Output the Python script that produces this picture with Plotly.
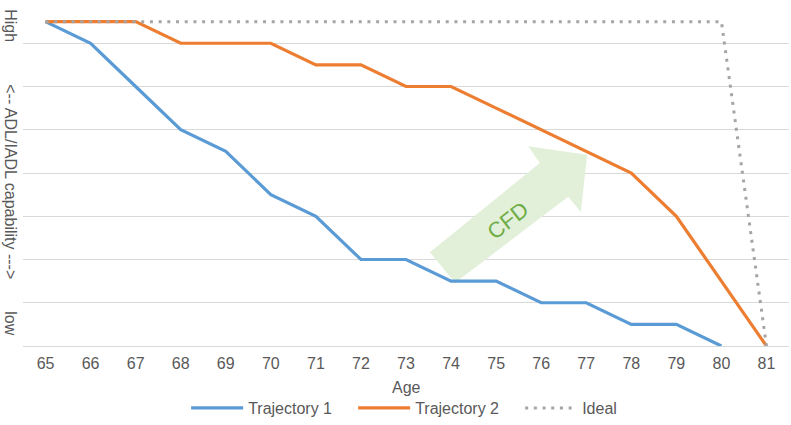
import plotly.graph_objects as go

ages = list(range(65, 82))
traj1 = [7.5, 7, 6, 5, 4.5, 3.5, 3, 2, 2, 1.5, 1.5, 1, 1, 0.5, 0.5, 0, None]
traj2 = [7.5, 7.5, 7.5, 7, 7, 7, 6.5, 6.5, 6, 6, 5.5, 5, 4.5, 4, 3, 1.5, 0]
ideal = [7.5] * 16 + [0]

# CFD block arrow outline (age, capability units)
arrow_x = [73.53, 75.97, 75.71, 77.02, 76.88, 76.60, 74.09]
arrow_y = [2.17, 4.23, 4.62, 4.42, 3.10, 3.45, 1.46]

FONT = "Liberation Sans, Arial, sans-serif"
GREY = "#595959"

fig = go.Figure()
fig.add_trace(go.Scatter(x=ages, y=traj1, mode="lines", name="Trajectory 1",
                         line=dict(color="#5b9bd5", width=3.2)))
fig.add_trace(go.Scatter(x=ages, y=traj2, mode="lines", name="Trajectory 2",
                         line=dict(color="#ed7d31", width=3.2)))
fig.add_trace(go.Scatter(x=ages, y=ideal, mode="lines", name="Ideal",
                         line=dict(color="#a5a5a5", width=3, dash="3px,5.7px")))

path = "M " + " L ".join(f"{x},{y}" for x, y in zip(arrow_x, arrow_y)) + " Z"
fig.add_shape(type="path", path=path, xref="x", yref="y",
              fillcolor="#e2f0d9", line=dict(width=0), layer="between")

fig.add_annotation(x=75.26, y=2.91, xref="x", yref="y", text="CFD", showarrow=False,
                   textangle=-38, font=dict(family=FONT, size=22, color="#70ad47"))

for txt, py in [("High", 26), ("<-- ADL/IADL capability --->", 182), ("low", 323)]:
    fig.add_annotation(x=-0.016, y=(346 - py) / 346, xref="paper", yref="paper",
                       text=txt, showarrow=False, textangle=90,
                       xanchor="center", yanchor="middle",
                       font=dict(family=FONT, size=16, color=GREY))

fig.add_annotation(x=0.5, y=(346 - 387) / 346, xref="paper", yref="paper",
                   text="Age", showarrow=False, xanchor="center", yanchor="middle",
                   font=dict(family=FONT, size=16, color=GREY))

fig.update_layout(
    width=791, height=425,
    margin=dict(l=23, r=2, t=0, b=79),
    paper_bgcolor="white", plot_bgcolor="white",
    font=dict(family=FONT, size=16, color=GREY),
    showlegend=True,
    legend=dict(orientation="h", x=0.54, xanchor="center", yref="container",
                y=-0.012, yanchor="bottom",
                font=dict(family=FONT, size=16, color=GREY), itemwidth=52,
                entrywidth=100, entrywidthmode="pixels"),
    xaxis=dict(range=[64.5, 81.5], tickmode="array", tickvals=ages,
               ticktext=[str(a) for a in ages], showgrid=False, zeroline=False,
               showline=True, linecolor="#d9d9d9", linewidth=1, ticks="",
               ticklabelstandoff=3, automargin=False,
               tickfont=dict(family=FONT, size=16, color=GREY)),
    yaxis=dict(range=[0, 8], dtick=1, showgrid=True, gridcolor="#d9d9d9", gridwidth=1,
               zeroline=False, showticklabels=False, ticks="", automargin=False),
)

fig.write_html("out.html", config={"displayModeBar": False},
               post_script="document.body.style.margin='0';")
